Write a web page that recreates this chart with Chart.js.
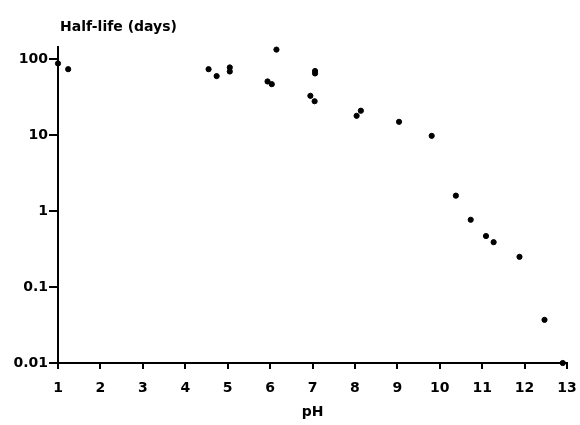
<!DOCTYPE html>
<html>
<head>
<meta charset="utf-8">
<script src="https://cdn.jsdelivr.net/npm/chart.js@4"></script>
<style>
  html, body { margin: 0; padding: 0; background: #fff; }
  #wrap { width: 580px; height: 425px; }
</style>
</head>
<body>
<div id="wrap"><canvas id="grafico"></canvas></div>
<script>
// datos
const phValues = [1.0, 1.24, 4.55, 4.74, 5.05, 5.05, 5.94, 6.04, 6.15, 7.06, 7.06, 6.95, 7.05, 8.14, 8.04, 9.04, 9.81, 10.38, 10.73, 11.09, 11.27, 11.88, 12.47, 12.9];
const halfLife = [88, 74, 74, 60, 78, 69, 51, 47, 134, 70, 65, 33, 28, 21, 18, 15, 9.8, 1.6, 0.77, 0.47, 0.39, 0.25, 0.037, 0.01];
const yTicks = [0.01, 0.1, 1, 10, 100];
const xTicks = [1, 2, 3, 4, 5, 6, 7, 8, 9, 10, 11, 12, 13];

const puntos = phValues.map((ph, i) => ({ x: ph, y: halfLife[i] }));
const fuente = '"DejaVu Sans", sans-serif';

// titulo arriba a la izquierda
const tituloY = {
    id: 'tituloY',
    afterDraw(chart) {
        const ctx = chart.ctx;
        ctx.save();
        ctx.font = 'bold 14px ' + fuente;
        ctx.fillStyle = '#000';
        ctx.textBaseline = 'middle';
        ctx.fillText('Half-life (days)', 60, 27);
        ctx.restore();
    }
};

(() => {
    const graph = document.getElementById('grafico');
    window.myChart = new Chart(graph, {
        type: 'scatter',
        data: {
            datasets: [{
                data: puntos,
                backgroundColor: '#000',
                borderColor: '#000',
                pointRadius: 2.6,
                pointStyle: 'circle',
                clip: false
            }]
        },
        options: {
            responsive: true,
            maintainAspectRatio: false,
            animation: false,
            layout: { padding: { left: 0, right: 13, top: 47, bottom: 0 } },
            plugins: { legend: { display: false }, tooltip: { enabled: false } },
            scales: {
                x: {
                    type: 'linear',
                    min: 1,
                    max: 13,
                    afterBuildTicks: (scale) => { scale.ticks = xTicks.map(v => ({ value: v })); },
                    afterFit: (scale) => {
                        scale.height = 62;
                        scale.paddingLeft = 0;
                        scale.paddingRight = 0;
                    },
                    grid: { drawOnChartArea: false, drawTicks: true, tickLength: 6, color: '#000', lineWidth: 2 },
                    border: { display: true, color: '#000', width: 2 },
                    ticks: {
                        color: '#000',
                        padding: 11,
                        maxRotation: 0,
                        font: { family: fuente, size: 14, weight: 'bold' }
                    },
                    title: {
                        display: true,
                        text: 'pH',
                        color: '#000',
                        padding: { top: 4 },
                        font: { family: fuente, size: 14, weight: 'bold' }
                    }
                },
                y: {
                    type: 'logarithmic',
                    min: 0.01,
                    max: 145,
                    afterBuildTicks: (scale) => { scale.ticks = yTicks.map(v => ({ value: v })); },
                    afterFit: (scale) => { scale.width = 58; },
                    grid: { drawOnChartArea: false, drawTicks: true, tickLength: 9, color: '#000', lineWidth: 2 },
                    border: { display: true, color: '#000', width: 2 },
                    ticks: {
                        color: '#000',
                        padding: 1,
                        font: { family: fuente, size: 14, weight: 'bold' },
                        callback: (v) => String(v)
                    }
                }
            }
        },
        plugins: [tituloY]
    });
})();
</script>
</body>
</html>
